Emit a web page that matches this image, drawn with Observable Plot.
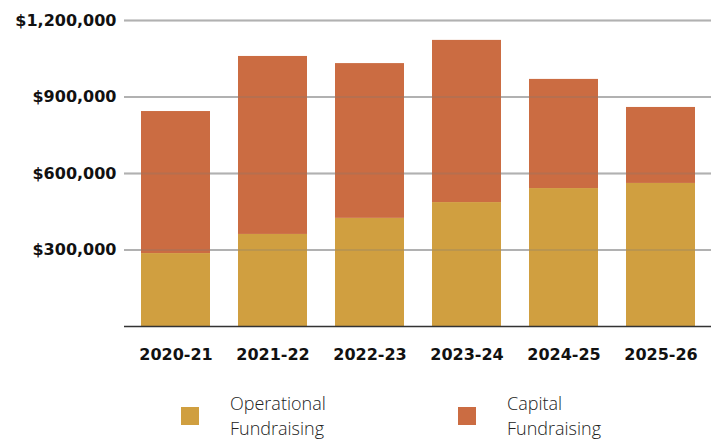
<!DOCTYPE html>
<html>
<head>
<meta charset="utf-8">
<script src="https://cdn.jsdelivr.net/npm/d3@7"></script>
<script src="https://cdn.jsdelivr.net/npm/@observablehq/plot@0.6"></script>
<style>
  html, body { margin: 0; padding: 0; background: #fff; overflow: hidden; }
  #chart { width: 713px; }
  .legend { position: relative; height: 66px; font-family: "Open Sans", "Lato", sans-serif; font-weight: 300; font-size: 18px; color: #222; }
  .legend .item { position: absolute; top: 16px; display: flex; align-items: center; }
  .legend .sw { width: 18px; height: 18px; margin-right: 31px; }
  .legend .lbl { line-height: 25px; }
</style>
</head>
<body>
<div id="chart"></div>
<script>
const years = ["2020-21", "2021-22", "2022-23", "2023-24", "2024-25", "2025-26"];
const operational = [286000, 361000, 424000, 486000, 541000, 561000];
const capital = [557000, 698000, 607000, 636000, 428000, 298000];
const seriesNames = ["Operational Fundraising", "Capital Fundraising"];
const seriesColors = ["#D09F40", "#CB6C42"];
const yTicks = [0, 300000, 600000, 900000, 1200000];

const rows = [];
years.forEach((y, i) => {
  rows.push({year: y, series: seriesNames[0], value: operational[i]});
  rows.push({year: y, series: seriesNames[1], value: capital[i]});
});

const fmt = d => d === 0 ? "" : "$" + d3.format(",")(d);

const chart = Plot.plot({
  width: 713,
  height: 375,
  marginTop: 20,
  marginBottom: 49,
  marginLeft: 124,
  marginRight: 2,
  style: { fontFamily: "'DejaVu Sans', sans-serif", fontSize: "15px", color: "#111", background: "#fff" },
  x: { domain: years, paddingInner: 0.29, paddingOuter: 0.14, label: null },
  y: { domain: [0, 1200000], label: null },
  color: { domain: seriesNames, range: seriesColors },
  marks: [
    Plot.ruleY(yTicks.slice(1), { stroke: "#c4c4c4", strokeWidth: 2 }),
    Plot.barY(rows, Plot.stackY({ x: "year", y: "value", fill: "series", order: seriesNames })),
    Plot.ruleY(yTicks.slice(1), { stroke: "#777", strokeWidth: 2, strokeOpacity: 0.25 }),
    Plot.ruleY([0], { stroke: "#333", strokeWidth: 1.5 }),
    Plot.axisY({ ticks: yTicks, tickFormat: fmt, tickSize: 0, tickPadding: 8, fontWeight: 700, fontSize: 16 }),
    Plot.axisX({ tickSize: 0, tickPadding: 22, fontWeight: 700, fontSize: 16 })
  ]
});
document.getElementById("chart").appendChild(chart);

const legend = document.createElement("div");
legend.className = "legend";
const lefts = [181, 458];
seriesNames.forEach((name, i) => {
  const item = document.createElement("div");
  item.className = "item";
  item.style.left = lefts[i] + "px";
  const sw = document.createElement("div");
  sw.className = "sw";
  sw.style.background = seriesColors[i];
  const lbl = document.createElement("div");
  lbl.className = "lbl";
  const parts = name.split(" ");
  lbl.innerHTML = parts[0] + "<br>" + parts[1];
  item.appendChild(sw);
  item.appendChild(lbl);
  legend.appendChild(item);
});
document.getElementById("chart").appendChild(legend);
</script>
</body>
</html>
